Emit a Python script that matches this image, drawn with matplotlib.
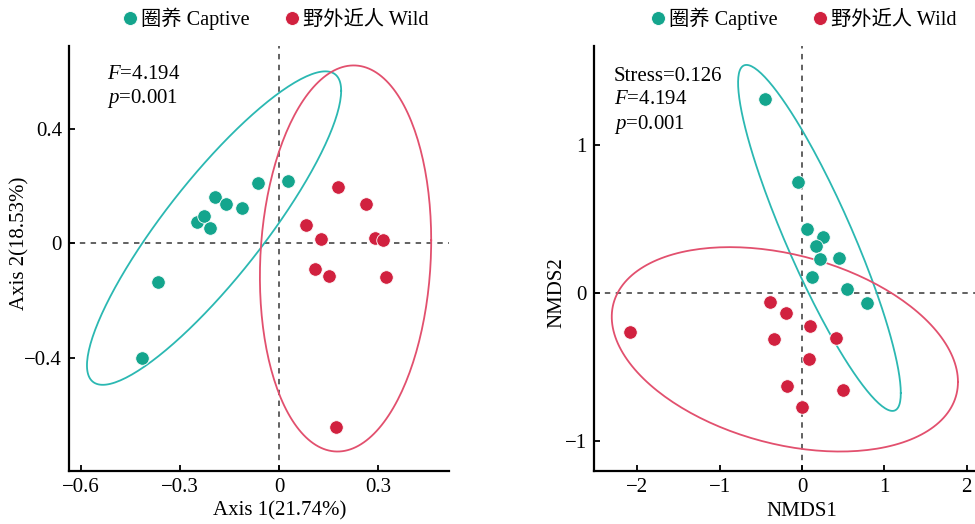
import numpy as np
import matplotlib
matplotlib.use('Agg')
import matplotlib.pyplot as plt
from matplotlib.lines import Line2D

plt.rcParams['font.family'] = ['Liberation Serif', 'Noto Sans CJK SC']
plt.rcParams['mathtext.fontset'] = 'custom'
plt.rcParams['mathtext.rm'] = 'Liberation Serif'
plt.rcParams['mathtext.it'] = 'Liberation Serif:italic'

# PCoA scores
pcoa_captive_x = [-0.248, -0.227, -0.209, -0.194, -0.161, -0.112, -0.064, 0.027, -0.367, -0.415]
pcoa_captive_y = [0.073, 0.094, 0.052, 0.161, 0.136, 0.122, 0.210, 0.217, -0.134, -0.400]
pcoa_wild_x = [0.179, 0.264, 0.082, 0.127, 0.291, 0.313, 0.110, 0.151, 0.322, 0.171]
pcoa_wild_y = [0.196, 0.136, 0.063, 0.014, 0.017, 0.010, -0.091, -0.116, -0.118, -0.642]

# NMDS scores
nmds_captive_x = [-0.445, -0.049, 0.061, 0.255, 0.175, 0.215, 0.446, 0.118, 0.540, 0.791]
nmds_captive_y = [1.311, 0.750, 0.437, 0.380, 0.322, 0.230, 0.236, 0.112, 0.031, -0.063]
nmds_wild_x = [-0.385, -0.190, -2.084, 0.094, -0.344, 0.410, 0.085, -0.178, 0.499, 0.000]
nmds_wild_y = [-0.059, -0.133, -0.261, -0.223, -0.309, -0.300, -0.446, -0.628, -0.653, -0.766]

labels = ['圈养 Captive', '野外近人 Wild']
point_colors = ['#14A58D', '#D1213F']
ellipse_colors = ['#2BB8B2', '#E2506E']

# qf(0.95, 2, 9) for a 95% ellipse with n = 10
QF_95 = 4.2565
FS = 15


def ellipse_path(x, y, n_seg=200):
    pts = np.column_stack([x, y])
    center = pts.mean(axis=0)
    cov = np.cov(pts, rowvar=False)
    radius = np.sqrt(2 * QF_95)
    theta = np.linspace(0, 2 * np.pi, n_seg)
    circle = np.column_stack([np.cos(theta), np.sin(theta)])
    chol = np.linalg.cholesky(cov)
    return center + radius * circle @ chol.T


def style_axes(ax):
    for side in ['top', 'right']:
        ax.spines[side].set_visible(False)
    for side in ['left', 'bottom']:
        ax.spines[side].set_linewidth(1.6)
    ax.tick_params(direction='in', length=4, width=1.3, labelsize=FS, pad=5)
    ax.axhline(0, color='#555555', lw=1.3, ls=(0, (3, 3)), zorder=1)
    ax.axvline(0, color='#555555', lw=1.3, ls=(0, (3, 3)), zorder=1)


fig = plt.figure(figsize=(9.75, 5.24), dpi=100)
ax1 = fig.add_axes([0.0708, 0.101, 0.39, 0.811])
ax2 = fig.add_axes([0.609, 0.101, 0.391, 0.811])

groups1 = [(pcoa_captive_x, pcoa_captive_y), (pcoa_wild_x, pcoa_wild_y)]
groups2 = [(nmds_captive_x, nmds_captive_y), (nmds_wild_x, nmds_wild_y)]

for ax, groups in [(ax1, groups1), (ax2, groups2)]:
    style_axes(ax)
    for (gx, gy), pc, ec in zip(groups, point_colors, ellipse_colors):
        ax.scatter(gx, gy, s=95, color=pc, edgecolor='white', linewidth=0.6, zorder=3)
        path = ellipse_path(gx, gy)
        ax.plot(path[:, 0], path[:, 1], color=ec, lw=1.3, zorder=2)

ax1.set_xlim(-0.636, 0.515)
ax1.set_ylim(-0.796, 0.689)
ax1.set_xticks([-0.6, -0.3, 0, 0.3])
ax1.set_xticklabels(['\u22120.6', '\u22120.3', '0', '0.3'])
ax1.set_yticks([-0.4, 0, 0.4])
ax1.set_yticklabels(['\u22120.4', '0', '0.4'])
ax1.set_xlabel('Axis 1(21.74%)', fontsize=FS)
ax1.set_ylabel('Axis 2(18.53%)', fontsize=FS)
ax1.xaxis.set_label_coords(0.555, -0.072)
ax1.yaxis.set_label_coords(-0.105, 0.536)
ax1.text(0.1, 0.955, '$F$=4.194\n$p$=0.001', transform=ax1.transAxes,
         fontsize=FS, va='top', ha='left', linespacing=1.2)

ax2.set_xlim(-2.53, 2.1)
ax2.set_ylim(-1.2, 1.67)
ax2.set_xticks([-2, -1, 0, 1, 2])
ax2.set_xticklabels(['\u22122', '\u22121', '0', '1', '2'])
ax2.set_yticks([-1, 0, 1])
ax2.set_yticklabels(['\u22121', '0', '1'])
ax2.set_xlabel('NMDS1', fontsize=FS)
ax2.set_ylabel('NMDS2', fontsize=FS)
ax2.xaxis.set_label_coords(0.546, -0.072)
ax2.yaxis.set_label_coords(-0.073, 0.419)
ax2.text(0.052, 0.95, 'Stress=0.126\n$F$=4.194\n$p$=0.001', transform=ax2.transAxes,
         fontsize=FS, va='top', ha='left', linespacing=1.25)

handles = [Line2D([], [], marker='o', ls='', markersize=10, color=c,
                  markeredgecolor='white', markeredgewidth=0.6) for c in point_colors]
for cx in [274 / 975, 802 / 975]:
    fig.legend(handles, labels, loc='center', bbox_to_anchor=(cx, 1 - 19 / 524),
               ncol=2, frameon=False, fontsize=14.6, handletextpad=0.05,
               columnspacing=1.6, handlelength=1.0, borderpad=0)

fig.savefig('out.png', dpi=100)
